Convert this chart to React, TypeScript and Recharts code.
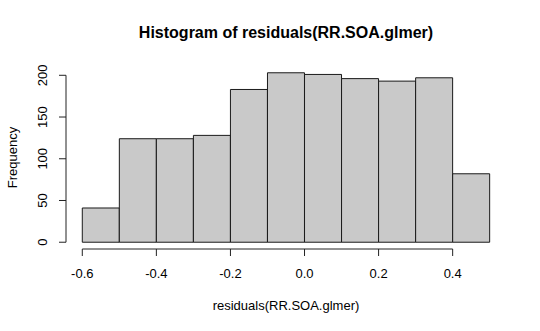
import { ComposedChart, Bar, XAxis, YAxis, ReferenceLine, Label } from 'recharts';

// histogram bins of residuals(RR.SOA.glmer)
const binStarts = [-0.6, -0.5, -0.4, -0.3, -0.2, -0.1, 0.0, 0.1, 0.2, 0.3, 0.4];
const binWidth = 0.1;
const counts = [41, 124, 124, 128, 183, 203, 201, 196, 193, 197, 82];
const xTicks = [-0.6, -0.4, -0.2, 0.0, 0.2, 0.4];
const yTicks = [0, 50, 100, 150, 200];

const data = binStarts.map((start, i) => ({ mid: start + binWidth / 2, count: counts[i] }));

// R style: axis range extended 4% on each side
const xLo = binStarts[0];
const xHi = binStarts[binStarts.length - 1] + binWidth;
const xPad = (xHi - xLo) * 0.04;
const yHi = Math.max(...counts);
const yPad = yHi * 0.04;

const font = '"Liberation Sans", Arial, Helvetica, sans-serif';

const YTick = (props: any) => {
  const { x, y, payload } = props;
  const tx = x - 10;
  return (
    <text x={tx} y={y} transform={`rotate(-90, ${tx}, ${y})`} textAnchor="middle"
      fontSize={13} fontFamily={font} fill="#000">
      {payload.value}
    </text>
  );
};

export default function App() {
  return (
    <div style={{ position: 'absolute', left: 0, top: 0, width: 540, height: 331, background: '#fff' }}>
      <div style={{
        position: 'absolute', left: 66, top: 25, width: 440, textAlign: 'center',
        fontFamily: font, fontWeight: 'bold', fontSize: 16, lineHeight: '16px', color: '#000',
      }}>
        Histogram of residuals(RR.SOA.glmer)
      </div>
      <ComposedChart width={540} height={331} data={data}
        margin={{ top: 66, right: 34, bottom: 0, left: 0 }}
        barCategoryGap={0} barGap={0}>
        <XAxis dataKey="mid" type="number" domain={[xLo - xPad, xHi + xPad]} ticks={xTicks}
          allowDataOverflow interval={0}
          tickFormatter={(v: number) => v.toFixed(1)}
          axisLine={false} tickSize={7} tickMargin={13} height={82}
          tick={{ fontSize: 13, fontFamily: font, fill: '#000' }}
          tickLine={{ stroke: '#222' }}>
          <Label value="residuals(RR.SOA.glmer)" position="insideBottom" offset={21}
            style={{ fontSize: 13, fontFamily: font, fill: '#000' }} />
        </XAxis>
        <YAxis type="number" domain={[-yPad, yHi + yPad]} ticks={yTicks} allowDataOverflow
          axisLine={false} tickSize={7} width={66} interval={0}
          tick={<YTick />} tickLine={{ stroke: '#222' }}>
          <Label value="Frequency" angle={-90} position="insideLeft" offset={12}
            style={{ fontSize: 13, fontFamily: font, fill: '#000', textAnchor: 'middle' }} />
        </YAxis>
        <Bar dataKey="count" fill="#c9c9c9" stroke="#1a1a1a" strokeWidth={1} isAnimationActive={false} />
        <ReferenceLine ifOverflow="visible" stroke="#222"
          segment={[{ x: xTicks[0], y: -yPad }, { x: xTicks[xTicks.length - 1], y: -yPad }]} />
        <ReferenceLine ifOverflow="visible" stroke="#222"
          segment={[{ x: xLo - xPad, y: yTicks[0] }, { x: xLo - xPad, y: yTicks[yTicks.length - 1] }]} />
      </ComposedChart>
    </div>
  );
}
